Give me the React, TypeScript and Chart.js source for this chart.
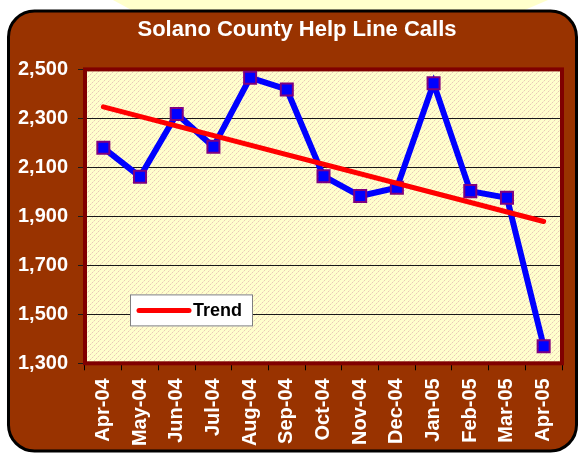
import React, { useEffect, useRef } from "react";
import { Chart, registerables } from "chart.js";

Chart.register(...registerables);

const months = [
  "Apr-04", "May-04", "Jun-04", "Jul-04", "Aug-04", "Sep-04", "Oct-04",
  "Nov-04", "Dec-04", "Jan-05", "Feb-05", "Mar-05", "Apr-05",
];
const calls = [2180, 2062, 2318, 2184, 2466, 2418, 2064, 1983, 2017, 2443, 2003, 1976, 1370];
const trendStart = 2347;
const trendEnd = 1879;
const yMin = 1300;
const yMax = 2500;
const yStep = 200;
const titleText = "Solano County Help Line Calls";
const legendLabel = "Trend";

const FONT = "Arial, 'Liberation Sans', Helvetica, sans-serif";

function makeHatch(ctx: CanvasRenderingContext2D) {
  const c = document.createElement("canvas");
  const n = 10;
  c.width = n;
  c.height = n;
  const g = c.getContext("2d")!;
  g.fillStyle = "#FFFFCC";
  g.fillRect(0, 0, n, n);
  for (let x = 0; x < n; x++) {
    for (let y = 0; y < n; y++) {
      if ((x + y) % 5 === 4) {
        g.fillStyle = x % 2 === 0 ? "#E9C9B6" : "#F5E6C6";
        g.fillRect(x, y, 1, 1);
      }
    }
  }
  return ctx.createPattern(c, "repeat")!;
}

function roundRect(ctx: CanvasRenderingContext2D, x: number, y: number, w: number, h: number, r: number) {
  ctx.beginPath();
  ctx.moveTo(x + r, y);
  ctx.lineTo(x + w - r, y);
  ctx.arcTo(x + w, y, x + w, y + r, r);
  ctx.lineTo(x + w, y + h - r);
  ctx.arcTo(x + w, y + h, x + w - r, y + h, r);
  ctx.lineTo(x + r, y + h);
  ctx.arcTo(x, y + h, x, y + h - r, r);
  ctx.lineTo(x, y + r);
  ctx.arcTo(x, y, x + r, y, r);
  ctx.closePath();
}

const decorPlugin = {
  id: "decor",
  afterLayout(chart: any) {
    // centre the title over the whole panel rather than the padded layout box
    if (chart.titleBlock) chart.titleBlock.left = 32;
  },
  beforeDraw(chart: any) {
    const { ctx, chartArea: a, width, height } = chart;
    ctx.save();
    ctx.fillStyle = "#FFFFFF";
    ctx.fillRect(0, 0, width, height);
    // pale yellow shape behind top
    ctx.fillStyle = "#FFFFCC";
    ctx.beginPath();
    ctx.moveTo(113, 0);
    ctx.lineTo(548, 0);
    ctx.lineTo(520, 12);
    ctx.lineTo(135, 12);
    ctx.closePath();
    ctx.fill();
    // brown rounded panel
    roundRect(ctx, 8.5, 11, 568, 440, 26);
    ctx.fillStyle = "#993300";
    ctx.fill();
    ctx.lineWidth = 3;
    ctx.strokeStyle = "#000000";
    ctx.stroke();
    // plot area hatch
    ctx.fillStyle = makeHatch(ctx);
    ctx.fillRect(a.left, a.top, a.right - a.left, a.bottom - a.top);
    ctx.restore();
  },
  beforeDatasetsDraw(chart: any) {
    const { ctx, chartArea: a } = chart;
    ctx.save();
    ctx.strokeStyle = "#800000";
    ctx.lineWidth = 4;
    ctx.strokeRect(a.left, a.top, a.right - a.left, a.bottom - a.top);
    ctx.restore();
  },
  afterDatasetsDraw(chart: any) {
    const { ctx, chartArea: a } = chart;
    const bx = a.left + 45;
    const by = a.top + 225;
    const bw = 123;
    const bh = 32;
    ctx.save();
    ctx.fillStyle = "#FFFFFF";
    ctx.fillRect(bx, by, bw, bh);
    ctx.strokeStyle = "#7F7F7F";
    ctx.lineWidth = 1;
    ctx.strokeRect(bx + 0.5, by + 0.5, bw - 1, bh - 1);
    ctx.strokeStyle = "#FF0000";
    ctx.lineWidth = 5;
    ctx.lineCap = "round";
    ctx.beginPath();
    ctx.moveTo(bx + 9, by + 16);
    ctx.lineTo(bx + 59, by + 16);
    ctx.stroke();
    ctx.fillStyle = "#000000";
    ctx.font = `bold 18px ${FONT}`;
    ctx.textBaseline = "middle";
    ctx.textAlign = "left";
    ctx.fillText(legendLabel, bx + 63, by + 17);
    ctx.restore();
  },
};

export default function App() {
  const ref = useRef<HTMLCanvasElement | null>(null);

  useEffect(() => {
    if (!ref.current) return;
    const trend = months.map((_, i) =>
      i === 0 ? trendStart : i === months.length - 1 ? trendEnd : null
    );
    const chart = new Chart(ref.current, {
      type: "line",
      data: {
        labels: months,
        datasets: [
          {
            label: "Calls",
            data: calls,
            borderColor: "#0000FF",
            borderWidth: 6,
            pointStyle: "rect",
            pointRadius: 8.5,
            pointHoverRadius: 8.5,
            pointBackgroundColor: "#0000FF",
            pointBorderColor: "#800080",
            pointBorderWidth: 2,
            tension: 0,
            order: 2,
          },
          {
            label: legendLabel,
            data: trend,
            spanGaps: true,
            borderColor: "#FF0000",
            borderWidth: 5,
            borderCapStyle: "round",
            pointRadius: 0,
            pointHoverRadius: 0,
            tension: 0,
            order: 1,
          },
        ],
      },
      options: {
        responsive: false,
        animation: false,
        events: [],
        layout: { padding: { left: 0, right: 16, top: 0, bottom: 0 } },
        plugins: {
          legend: { display: false },
          tooltip: { enabled: false },
          title: {
            display: true,
            text: titleText,
            color: "#FFFFFF",
            font: { family: FONT, size: 22, weight: "bold" },
            padding: { top: 17, bottom: 26 },
          },
        },
        scales: {
          x: {
            type: "category",
            offset: true,
            afterFit(scale: any) {
              scale.height = 91.7;
            },
            grid: {
              offset: true,
              drawOnChartArea: false,
              drawTicks: true,
              tickLength: 7,
              color: "#000000",
            },
            border: { display: true, color: "#000000", width: 1 },
            ticks: {
              color: "#FFFFFF",
              font: { family: FONT, size: 20, weight: "bold" },
              minRotation: 90,
              maxRotation: 90,
              padding: 8,
              autoSkip: false,
            },
          },
          y: {
            min: yMin,
            max: yMax,
            afterFit(scale: any) {
              scale.width = 85;
            },
            grid: {
              color: "#1A1A1A",
              lineWidth: 1,
              drawTicks: true,
              tickLength: 7,
            },
            border: { display: true, color: "#000000", width: 1 },
            ticks: {
              stepSize: yStep,
              color: "#FFFFFF",
              font: { family: FONT, size: 20, weight: "bold" },
              padding: 10,
              callback: (v: any) => Number(v).toLocaleString("en-US"),
            },
          },
        },
      },
      plugins: [decorPlugin],
    });
    return () => chart.destroy();
  }, []);

  return (
    <div style={{ position: "absolute", left: 0, top: 0, width: 578, height: 455 }}>
      <canvas ref={ref} width={578} height={455} style={{ width: 578, height: 455 }} />
    </div>
  );
}
